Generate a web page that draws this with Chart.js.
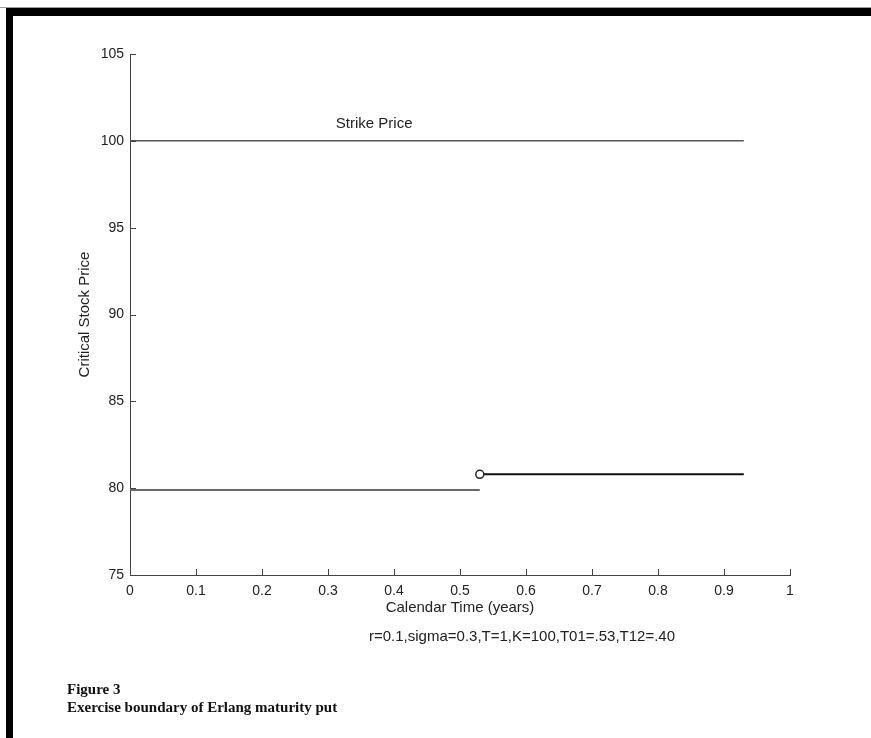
<!DOCTYPE html>
<html>
<head>
<meta charset="utf-8">
<script src="https://cdn.jsdelivr.net/npm/chart.js@4"></script>
<style>
  body { margin: 0; background: #fff; }
  #wrap { position: relative; width: 871px; height: 738px; overflow: hidden; }
  #topline { position: absolute; left: 0; top: 7px; width: 871px; height: 1px; background: #9a9a9a; }
  #frame { position: absolute; left: 6px; top: 8px; width: 900px; height: 800px;
           border-top: 8px solid #000; border-left: 7px solid #000; }
  canvas { position: absolute; left: 0; top: 0; }
  .note { position: absolute; font-family: "Liberation Sans", Arial, sans-serif; color: #222; }
  .cap { position: absolute; font-family: "Liberation Serif", "Times New Roman", serif;
         font-weight: bold; font-size: 15px; color: #111; line-height: 18px; }
</style>
</head>
<body>
<div id="wrap">
  <div id="topline"></div>
  <div id="frame"></div>
  <canvas id="myChart" width="871" height="738"></canvas>
  <div class="note" style="left:369px; top:627px; font-size:15px;">r=0.1,sigma=0.3,T=1,K=100,T01=.53,T12=.40</div>
  <div class="cap" style="left:67px; top:680px;">Figure 3<br>Exercise boundary of Erlang maturity put</div>
</div>
<script>
// valeurs
const strikeX = [0, 0.93];
const strikeY = [100, 100];
const lowX = [0, 0.53];
const lowY = [79.9, 79.9];
const highX = [0.53, 0.93];
const highY = [80.8, 80.8];
const xTicks = [0, 0.1, 0.2, 0.3, 0.4, 0.5, 0.6, 0.7, 0.8, 0.9, 1];
const yTicks = [75, 80, 85, 90, 95, 100, 105];

function pts(xs, ys) {
    return xs.map((x, i) => ({ x: x, y: ys[i] }));
}

// petits traits vers l'intérieur + label "Strike Price"
const innerTicks = {
    id: 'innerTicks',
    afterDraw(chart) {
        const ctx = chart.ctx;
        const xs = chart.scales.x, ys = chart.scales.y;
        ctx.save();
        ctx.strokeStyle = '#444';
        ctx.lineWidth = 1;
        ctx.beginPath();
        xTicks.forEach(v => {
            const px = Math.round(xs.getPixelForValue(v)) + 0.5;
            ctx.moveTo(px, ys.bottom);
            ctx.lineTo(px, ys.bottom - 6);
        });
        yTicks.forEach(v => {
            const py = Math.round(ys.getPixelForValue(v)) + 0.5;
            ctx.moveTo(xs.left, py);
            ctx.lineTo(xs.left + 6, py);
        });
        ctx.stroke();
        ctx.fillStyle = '#222';
        ctx.font = '15px "Liberation Sans", Arial, sans-serif';
        ctx.textAlign = 'center';
        ctx.textBaseline = 'middle';
        ctx.fillText('Strike Price', xs.getPixelForValue(0.37), ys.getPixelForValue(100.95));
        ctx.restore();
    }
};

const font = { family: '"Liberation Sans", Arial, sans-serif', size: 14 };

var myChart = new Chart("myChart", {
    type: 'line',
    data: {
        datasets: [
            {
                label: 'Strike Price',
                data: pts(strikeX, strikeY),
                borderColor: '#555',
                borderWidth: 1.5,
                pointRadius: 0
            },
            {
                label: 'low',
                data: pts(lowX, lowY),
                borderColor: '#6a6a6a',
                borderWidth: 2,
                pointRadius: 0
            },
            {
                label: 'high',
                data: pts(highX, highY),
                borderColor: '#111',
                borderWidth: 2,
                pointRadius: [4, 0],
                pointBackgroundColor: '#fff',
                pointBorderColor: '#222',
                pointBorderWidth: 1.5
            }
        ]
    },
    options: {
        responsive: false,
        animation: false,
        layout: { padding: { left: 72, right: 81, top: 54, bottom: 117 } },
        plugins: {
            legend: { display: false },
            tooltip: { enabled: false }
        },
        scales: {
            x: {
                type: 'linear',
                min: 0,
                max: 1,
                afterFit: (s) => { s.height = 46; },
                afterBuildTicks: (s) => { s.ticks = xTicks.map(v => ({ value: v })); },
                grid: { display: false, drawTicks: false, tickLength: 0 },
                border: { display: true, color: '#444', width: 1 },
                ticks: {
                    color: '#222', font: font, padding: 8, maxRotation: 0,
                    callback: (v) => String(Math.round(v * 10) / 10)
                },
                title: {
                    display: true,
                    text: 'Calendar Time (years)',
                    color: '#222',
                    font: { family: font.family, size: 15 },
                    padding: { top: 2, bottom: 4 }
                }
            },
            y: {
                min: 75,
                max: 105,
                afterFit: (s) => { s.width = 58; },
                afterBuildTicks: (s) => { s.ticks = yTicks.map(v => ({ value: v })); },
                grid: { display: false, drawTicks: false, tickLength: 0 },
                border: { display: true, color: '#444', width: 1 },
                ticks: { color: '#222', font: font, padding: 6 },
                title: {
                    display: true,
                    text: 'Critical Stock Price',
                    color: '#222',
                    font: { family: font.family, size: 15 },
                    padding: 4
                }
            }
        }
    },
    plugins: [innerTicks]
});
</script>
</body>
</html>
